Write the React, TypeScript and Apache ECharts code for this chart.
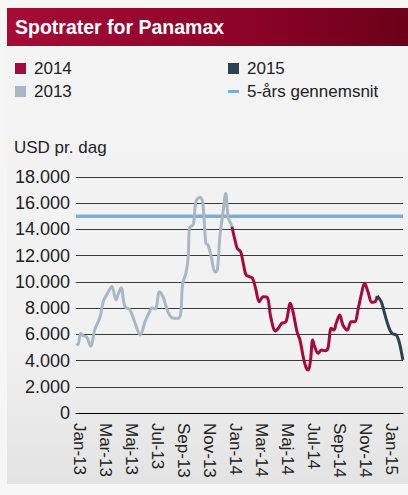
import React, { useEffect, useRef } from 'react';
import * as echarts from 'echarts';

const monthLabels = ['Jan-13', 'Mar-13', 'Maj-13', 'Jul-13', 'Sep-13', 'Nov-13', 'Jan-14', 'Mar-14', 'Maj-14', 'Jul-14', 'Sep-14', 'Nov-14', 'Jan-15'];
const labelPositions = [0, 2, 4, 6, 8, 10, 12, 14, 16, 18, 20, 22, 24];

// x = months since Jan 2013, y = USD per day
const x2013 = [-0.26, -0.15, 0.06, 0.24, 0.52, 0.83, 1.16, 1.55, 1.8, 2.06, 2.28, 2.47, 2.78, 2.97, 3.17, 3.47, 3.86, 4.24, 4.65, 5.02, 5.4, 5.56, 5.82, 6.13, 6.43, 6.81, 7.2, 7.58, 7.77, 7.92, 8.17, 8.35, 8.44, 8.74, 8.94, 9.25, 9.46, 9.71, 9.89, 10.15, 10.41, 10.59, 10.79, 11.05, 11.23, 11.43, 11.62, 11.72];
const y2013 = [5300, 5200, 6080, 5900, 5800, 5100, 6400, 7300, 8500, 9000, 9400, 9650, 8620, 9100, 9550, 8110, 7860, 6900, 5950, 6960, 7800, 8000, 7950, 9250, 8800, 7650, 7220, 7220, 7600, 9890, 10650, 11900, 14100, 14400, 16100, 16450, 16100, 12950, 12800, 11800, 10750, 10900, 13450, 15480, 16750, 14900, 14470, 14210];

const x2014 = [11.72, 11.95, 12.13, 12.39, 12.59, 12.8, 13.05, 13.31, 13.57, 13.82, 14.13, 14.44, 14.7, 15.07, 15.29, 15.55, 15.88, 16.22, 16.45, 16.73, 16.96, 17.21, 17.42, 17.6, 17.77, 17.94, 18.11, 18.37, 18.6, 18.91, 19.11, 19.37, 19.58, 19.75, 20.02, 20.27, 20.6, 20.91, 21.17, 21.48, 21.68, 21.94, 22.2, 22.5, 22.76, 22.91];
const y2014 = [14210, 13190, 12560, 12300, 11420, 10530, 10400, 10270, 9380, 8490, 8870, 8820, 7350, 6250, 6460, 6840, 6960, 8370, 7600, 6200, 5570, 4290, 3500, 3280, 4000, 5570, 5000, 4550, 4800, 4750, 4930, 6460, 6330, 6840, 7470, 6710, 6330, 6960, 6960, 8110, 9000, 9890, 9250, 8440, 8490, 8920];

const x2015 = [22.91, 23.22, 23.48, 23.79, 24.04, 24.38, 24.56, 24.72, 24.89];
const y2015 = [8920, 8490, 7600, 6580, 6080, 5950, 5570, 4930, 4040];

const avgX = [-0.3, 24.9];
const avgY = [15000, 15000];

const pair = (xs: number[], ys: number[]) => xs.map((x, i) => [x, ys[i]]);
const fmtThousands = (v: number) => String(v).replace(/\B(?=(\d{3})+(?!\d))/g, '.');

const FONT = '"Liberation Sans", Arial, Helvetica, sans-serif';

export default function App() {
  const ref = useRef<HTMLDivElement>(null);
  useEffect(() => {
    const chart = echarts.init(ref.current!, null, { renderer: 'svg' });
    chart.setOption({
      animation: false,
      backgroundColor: '#f6f6f6',
      textStyle: { fontFamily: FONT },
      graphic: [
        {
          type: 'rect', z: -10, silent: true,
          shape: { x: 7, y: 8, width: 401, height: 476 },
          style: {
            fill: new echarts.graphic.LinearGradient(0, 0, 0, 1, [
              { offset: 0, color: '#f4f4f4' },
              { offset: 0.7, color: '#f1f1f1' },
              { offset: 1, color: '#e3e3e3' },
            ]),
          },
        },
        {
          type: 'rect', z: -5, silent: true,
          shape: { x: 7, y: 8, width: 401, height: 38 },
          style: {
            fill: new echarts.graphic.LinearGradient(0, 0, 1, 0, [
              { offset: 0, color: '#a50c38' },
              { offset: 0.6, color: '#8c0328' },
              { offset: 1, color: '#6b0018' },
            ]),
          },
        },
        {
          type: 'text', x: 15, y: 27, z: 10,
          style: { text: 'Spotrater for Panamax', fill: '#ffffff', font: 'bold 19.5px ' + FONT, verticalAlign: 'middle' },
        },
        {
          type: 'text', x: 14, y: 147, z: 10,
          style: { text: 'USD pr. dag', fill: '#222222', font: '17px ' + FONT, verticalAlign: 'middle' },
        },
      ],
      legend: [
        {
          data: [{ name: '2014', icon: 'rect' }, { name: '2013', icon: 'rect' }],
          orient: 'vertical', left: 15, top: 60, padding: 0,
          itemWidth: 11, itemHeight: 11, itemGap: 6, selectedMode: false,
          textStyle: { fontSize: 17, color: '#222', lineHeight: 17, padding: [0, 0, 0, 3] },
        },
        {
          data: [{ name: '2015', icon: 'rect' }, { name: '5-års gennemsnit', icon: 'path://M0,0H11V3H0Z' }],
          orient: 'vertical', left: 228, top: 60, padding: 0,
          itemWidth: 11, itemHeight: 11, itemGap: 6, selectedMode: false,
          textStyle: { fontSize: 17, color: '#222', lineHeight: 17, padding: [0, 0, 0, 3] },
        },
      ],
      grid: { left: 76, right: 5, top: 177, bottom: 82 },
      xAxis: {
        type: 'value', min: -0.3, max: 24.9,
        axisLine: { show: true, onZero: false, lineStyle: { color: '#000', width: 1 } },
        axisTick: { show: false },
        splitLine: { show: false },
        axisLabel: {
          customValues: labelPositions,
          formatter: (v: number) => monthLabels[Math.round(v / 2)] ?? '',
          rotate: -90, fontSize: 17, color: '#222', margin: 10,
        },
      },
      yAxis: {
        type: 'value', min: 0, max: 18000, interval: 2000,
        axisLine: { show: false }, axisTick: { show: false },
        splitLine: { lineStyle: { color: '#3a3a3a', width: 1 } },
        axisLabel: { fontSize: 18, color: '#222', margin: 6, formatter: (v: number) => fmtThousands(v) },
      },
      series: [
        {
          name: '5-års gennemsnit', type: 'line', data: pair(avgX, avgY), showSymbol: false,
          lineStyle: { color: '#7aaed6', width: 3.5 }, itemStyle: { color: '#7aaed6' }, z: 1,
        },
        {
          name: '2013', type: 'line', data: pair(x2013, y2013), showSymbol: false, smooth: 0.35,
          lineStyle: { color: '#a8b7c6', width: 3 }, itemStyle: { color: '#a8b7c6' }, z: 3,
        },
        {
          name: '2014', type: 'line', data: pair(x2014, y2014), showSymbol: false, smooth: 0.35,
          lineStyle: { color: '#a50b3a', width: 3 }, itemStyle: { color: '#a50b3a' }, z: 3,
        },
        {
          name: '2015', type: 'line', data: pair(x2015, y2015), showSymbol: false, smooth: 0.35,
          lineStyle: { color: '#2c4152', width: 3 }, itemStyle: { color: '#2c4152' }, z: 3,
        },
      ],
    });
    return () => chart.dispose();
  }, []);
  return <div ref={ref} style={{ position: 'absolute', left: 0, top: 0, width: 408, height: 495 }} />;
}
